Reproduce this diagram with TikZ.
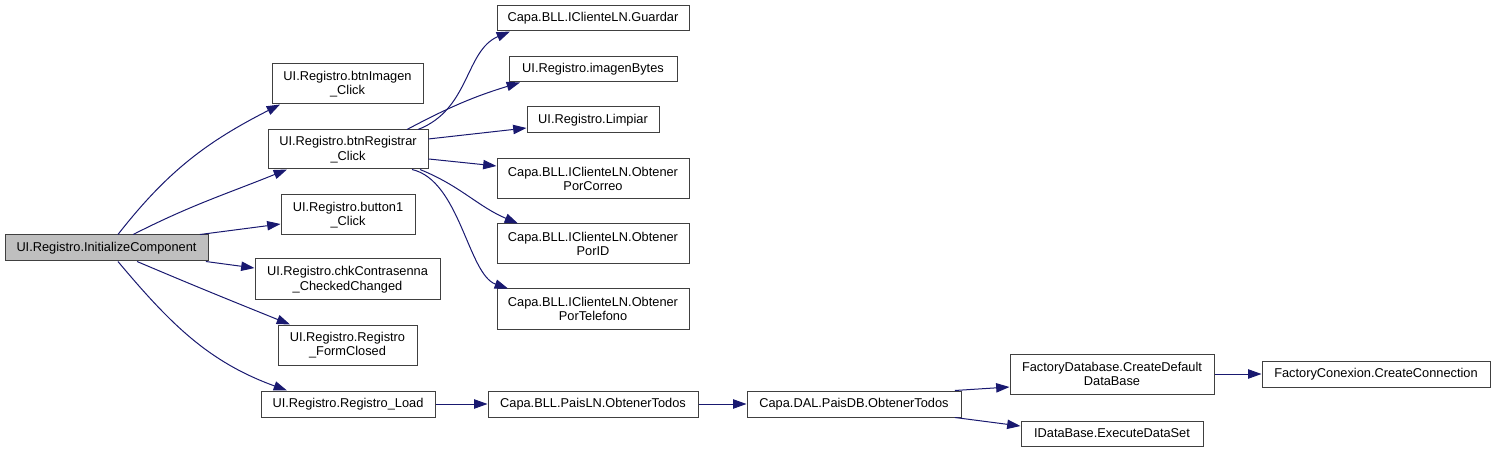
\documentclass[tikz,border=0pt]{standalone}
\usepackage{fontspec}
\setmainfont{Liberation Sans}
\usetikzlibrary{arrows.meta}
\definecolor{edgeblue}{RGB}{25, 25, 112}
\definecolor{rootgray}{RGB}{191, 191, 191}
\definecolor{boxline}{RGB}{64, 64, 64}

\tikzset{
  fnbox/.style={draw=boxline, fill=white, line width=0.75pt, inner sep=0pt, align=center, font=\fontsize{9.6}{10.8}\selectfont},
  callarrow/.style={draw=edgeblue, line width=0.75pt, -{Triangle[length=10pt, width=7pt]}}
}

\begin{document}
\begin{tikzpicture}[x=0.75pt, y=-0.75pt]
  \useasboundingbox (0,0) rectangle (1492,452);

  % Root
  \node[fnbox, fill=rootgray, minimum width=152.25pt, minimum height=19.5pt] (init) at (106.5,248) {UI.Registro.InitializeComponent};

  % First level
  \node[fnbox, minimum width=113.25pt, minimum height=30pt] (btnimg) at (347.5,84) {UI.Registro.btnImagen\\\_Click};
  \node[fnbox, minimum width=120pt, minimum height=29.25pt] (btnreg) at (348,149.5) {UI.Registro.btnRegistrar\\\_Click};
  \node[fnbox, minimum width=100.5pt, minimum height=30pt] (button1) at (348,215) {UI.Registro.button1\\\_Click};
  \node[fnbox, minimum width=138.75pt, minimum height=30.75pt] (chkpass) at (347.5,279.5) {UI.Registro.chkContrasenna\\\_CheckedChanged};
  \node[fnbox, minimum width=104.25pt, minimum height=30pt] (formclosed) at (347.5,345) {UI.Registro.Registro\\\_FormClosed};
  \node[fnbox, minimum width=130.5pt, minimum height=19.5pt] (load) at (348,404) {UI.Registro.Registro\_Load};

  % Called by btnRegistrar_Click
  \node[fnbox, minimum width=144pt, minimum height=18.75pt] (guardar) at (593,18.5) {Capa.BLL.IClienteLN.Guardar};
  \node[fnbox, minimum width=126pt, minimum height=18.75pt] (imgbytes) at (593,69.5) {UI.Registro.imagenBytes};
  \node[fnbox, minimum width=99pt, minimum height=19.5pt] (limpiar) at (593,120) {UI.Registro.Limpiar};
  \node[fnbox, minimum width=144pt, minimum height=30pt] (porcorreo) at (593,179) {Capa.BLL.IClienteLN.Obtener\\PorCorreo};
  \node[fnbox, minimum width=144pt, minimum height=30pt] (porid) at (593,244) {Capa.BLL.IClienteLN.Obtener\\PorID};
  \node[fnbox, minimum width=144pt, minimum height=30pt] (portel) at (593,309) {Capa.BLL.IClienteLN.Obtener\\PorTelefono};

  % Data chain
  \node[fnbox, minimum width=157.5pt, minimum height=19.5pt] (paisln) at (593,404) {Capa.BLL.PaisLN.ObtenerTodos};
  \node[fnbox, minimum width=160.5pt, minimum height=19.5pt] (paisdb) at (854,404) {Capa.DAL.PaisDB.ObtenerTodos};
  \node[fnbox, minimum width=153pt, minimum height=30pt] (factdb) at (1112,374) {FactoryDatabase.CreateDefault\\DataBase};
  \node[fnbox, minimum width=171pt, minimum height=19.5pt] (factcon) at (1376,374) {FactoryConexion.CreateConnection};
  \node[fnbox, minimum width=136.5pt, minimum height=18.75pt] (execds) at (1112,433.5) {IDataBase.ExecuteDataSet};

  % Calls from InitializeComponent
  \draw[callarrow] ([xshift=8.6pt]init.north) to[out=52, in=207] ([xshift=-50.6pt]btnimg.south);
  \draw[callarrow] ([xshift=20pt]init.north) to[out=27, in=202] ([xshift=-45.75pt]btnreg.south);
  \draw[callarrow] ([xshift=70.1pt]init.north) -- ([yshift=-6.75pt]button1.west);
  \draw[callarrow] ([xshift=-2pt]init.south east) -- ([yshift=8.6pt]chkpass.west);
  \draw[callarrow] ([xshift=22.9pt]init.south) to[out=-23, in=158] ([xshift=-43.1pt]formclosed.north);
  \draw[callarrow] ([xshift=8.6pt]init.south) to[out=-50, in=160] ([xshift=-45.75pt]load.north);

  % Calls from btnRegistrar_Click
  \draw[callarrow] ([xshift=52.5pt]btnreg.north) .. controls +(52,-20) and +(-45,19) .. ([xshift=-62.25pt]guardar.south);
  \draw[callarrow] ([xshift=44.25pt]btnreg.north) to[out=28, in=197] ([xshift=-54.75pt]imgbytes.south);
  \draw[callarrow] ([yshift=7.9pt]btnreg.east) -- ([yshift=-6pt]limpiar.west);
  \draw[callarrow] ([yshift=-7.1pt]btnreg.east) -- ([yshift=9.75pt]porcorreo.west);
  \draw[callarrow] ([xshift=54pt]btnreg.south) to[out=-22, in=157] ([xshift=-56.25pt]porid.north);
  \draw[callarrow] ([xshift=48pt]btnreg.south) .. controls +(48,11) and +(-40,-14) .. ([xshift=-63.75pt]portel.north);

  % Chain to the data layer
  \draw[callarrow] (load.east) -- (paisln.west);
  \draw[callarrow] (paisln.east) -- (paisdb.west);
  \draw[callarrow] ([xshift=-5pt]paisdb.north east) -- ([yshift=-9.75pt]factdb.west);
  \draw[callarrow] ([xshift=-5pt]paisdb.south east) -- ([yshift=5.6pt]execds.west);
  \draw[callarrow] (factdb.east) -- (factcon.west);
\end{tikzpicture}
\end{document}
